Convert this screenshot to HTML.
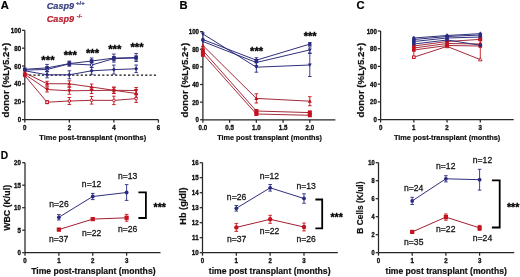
<!DOCTYPE html>
<html><head><meta charset="utf-8"><style>
html,body{margin:0;padding:0;background:#fff;width:520px;height:277px;overflow:hidden}
svg{display:block;will-change:transform;filter:blur(0.35px)}
text{font-family:"Liberation Sans", sans-serif}
.k text{stroke:#111;stroke-width:0.2px}
</style></head><body>
<svg width="520" height="277" viewBox="0 0 520 277">
<rect width="520" height="277" fill="#fff"/>
<text x="0.8" y="9.3" font-size="11.2" text-anchor="start" font-weight="bold" fill="#000"  stroke="#000" stroke-width="0.2">A</text>
<text x="46.8" y="8.8" font-size="9.1" text-anchor="start" font-weight="bold" fill="#38407f" font-style="italic"  stroke="#38407f" stroke-width="0.2">Casp9</text>
<text x="76" y="4.6" font-size="6" text-anchor="start" font-weight="bold" fill="#38407f"  stroke="#38407f" stroke-width="0.2">+/+</text>
<text x="46.8" y="21.6" font-size="9.1" text-anchor="start" font-weight="bold" fill="#b81e2c" font-style="italic"  stroke="#b81e2c" stroke-width="0.2">Casp9</text>
<text x="76.8" y="17.8" font-size="5.8" text-anchor="start" font-weight="bold" fill="#b81e2c"  stroke="#b81e2c" stroke-width="0.2">-/-</text>
<line x1="24.8" y1="30.3" x2="24.8" y2="119.6" stroke="#262626" stroke-width="1.25" />
<line x1="24.8" y1="119.6" x2="158.4" y2="119.6" stroke="#262626" stroke-width="1.25" />
<line x1="22" y1="119.6" x2="24.8" y2="119.6" stroke="#262626" stroke-width="1.25" />
<text x="0" y="0" font-size="7" text-anchor="end" font-weight="bold" fill="#111" stroke="#111" stroke-width="0.35" transform="translate(21.1,122.15) scale(0.88,1)">0</text>
<line x1="22" y1="101.74" x2="24.8" y2="101.74" stroke="#262626" stroke-width="1.25" />
<text x="0" y="0" font-size="7" text-anchor="end" font-weight="bold" fill="#111" stroke="#111" stroke-width="0.35" transform="translate(21.1,104.29) scale(0.88,1)">20</text>
<line x1="22" y1="83.88" x2="24.8" y2="83.88" stroke="#262626" stroke-width="1.25" />
<text x="0" y="0" font-size="7" text-anchor="end" font-weight="bold" fill="#111" stroke="#111" stroke-width="0.35" transform="translate(21.1,86.43) scale(0.88,1)">40</text>
<line x1="22" y1="66.02" x2="24.8" y2="66.02" stroke="#262626" stroke-width="1.25" />
<text x="0" y="0" font-size="7" text-anchor="end" font-weight="bold" fill="#111" stroke="#111" stroke-width="0.35" transform="translate(21.1,68.57) scale(0.88,1)">60</text>
<line x1="22" y1="48.16" x2="24.8" y2="48.16" stroke="#262626" stroke-width="1.25" />
<text x="0" y="0" font-size="7" text-anchor="end" font-weight="bold" fill="#111" stroke="#111" stroke-width="0.35" transform="translate(21.1,50.71) scale(0.88,1)">80</text>
<line x1="22" y1="30.3" x2="24.8" y2="30.3" stroke="#262626" stroke-width="1.25" />
<text x="0" y="0" font-size="7" text-anchor="end" font-weight="bold" fill="#111" stroke="#111" stroke-width="0.35" transform="translate(21.1,32.85) scale(0.88,1)">100</text>
<line x1="24.8" y1="119.6" x2="24.8" y2="122.6" stroke="#262626" stroke-width="1.25" />
<text x="0" y="0" font-size="7" text-anchor="middle" font-weight="bold" fill="#111" stroke="#111" stroke-width="0.35" transform="translate(24.8,129.55) scale(0.88,1)">0</text>
<line x1="69.34" y1="119.6" x2="69.34" y2="122.6" stroke="#262626" stroke-width="1.25" />
<text x="0" y="0" font-size="7" text-anchor="middle" font-weight="bold" fill="#111" stroke="#111" stroke-width="0.35" transform="translate(69.34,129.55) scale(0.88,1)">2</text>
<line x1="113.88" y1="119.6" x2="113.88" y2="122.6" stroke="#262626" stroke-width="1.25" />
<text x="0" y="0" font-size="7" text-anchor="middle" font-weight="bold" fill="#111" stroke="#111" stroke-width="0.35" transform="translate(113.88,129.55) scale(0.88,1)">4</text>
<line x1="158.42" y1="119.6" x2="158.42" y2="122.6" stroke="#262626" stroke-width="1.25" />
<text x="0" y="0" font-size="7" text-anchor="middle" font-weight="bold" fill="#111" stroke="#111" stroke-width="0.35" transform="translate(158.42,129.55) scale(0.88,1)">6</text>
<text x="92.8" y="139.6" font-size="7.42" text-anchor="middle" font-weight="bold" fill="#111"  stroke="#111" stroke-width="0.2">Time post-transplant (months)</text>
<text x="0" y="0" font-size="9.6" text-anchor="middle" font-weight="bold" fill="#111" stroke="#111" stroke-width="0.2" transform="translate(5.8,80.2) rotate(-90)" dominant-baseline="central">donor (%Ly5.2+)</text>
<line x1="24.8" y1="75.15" x2="157" y2="75.15" stroke="#111" stroke-width="1.1" stroke-dasharray="2.2 2.1"/>
<polyline points="24.8,72.8 47.07,83.7 69.34,83.8 91.61,87 113.88,90.3 136.15,93.5" fill="none" stroke="#a02030" stroke-width="0.95"/>
<line x1="47.07" y1="81.3" x2="47.07" y2="86.1" stroke="#c4121e" stroke-width="0.9" />
<line x1="45.27" y1="81.3" x2="48.87" y2="81.3" stroke="#c4121e" stroke-width="0.9" />
<line x1="45.27" y1="86.1" x2="48.87" y2="86.1" stroke="#c4121e" stroke-width="0.9" />
<line x1="69.34" y1="80.8" x2="69.34" y2="86.8" stroke="#c4121e" stroke-width="0.9" />
<line x1="67.54" y1="80.8" x2="71.14" y2="80.8" stroke="#c4121e" stroke-width="0.9" />
<line x1="67.54" y1="86.8" x2="71.14" y2="86.8" stroke="#c4121e" stroke-width="0.9" />
<line x1="91.61" y1="84" x2="91.61" y2="90" stroke="#c4121e" stroke-width="0.9" />
<line x1="89.81" y1="84" x2="93.41" y2="84" stroke="#c4121e" stroke-width="0.9" />
<line x1="89.81" y1="90" x2="93.41" y2="90" stroke="#c4121e" stroke-width="0.9" />
<line x1="113.88" y1="87.1" x2="113.88" y2="93.5" stroke="#c4121e" stroke-width="0.9" />
<line x1="112.08" y1="87.1" x2="115.68" y2="87.1" stroke="#c4121e" stroke-width="0.9" />
<line x1="112.08" y1="93.5" x2="115.68" y2="93.5" stroke="#c4121e" stroke-width="0.9" />
<line x1="136.15" y1="89.7" x2="136.15" y2="97.3" stroke="#c4121e" stroke-width="0.9" />
<line x1="134.35" y1="89.7" x2="137.95" y2="89.7" stroke="#c4121e" stroke-width="0.9" />
<line x1="134.35" y1="97.3" x2="137.95" y2="97.3" stroke="#c4121e" stroke-width="0.9" />
<polyline points="24.8,74.3 47.07,89.5 69.34,90.8 91.61,90.5 113.88,90.3 136.15,90.5" fill="none" stroke="#a02030" stroke-width="0.95"/>
<line x1="47.07" y1="87" x2="47.07" y2="92" stroke="#c4121e" stroke-width="0.9" />
<line x1="45.27" y1="87" x2="48.87" y2="87" stroke="#c4121e" stroke-width="0.9" />
<line x1="45.27" y1="92" x2="48.87" y2="92" stroke="#c4121e" stroke-width="0.9" />
<line x1="69.34" y1="87.3" x2="69.34" y2="94.3" stroke="#c4121e" stroke-width="0.9" />
<line x1="67.54" y1="87.3" x2="71.14" y2="87.3" stroke="#c4121e" stroke-width="0.9" />
<line x1="67.54" y1="94.3" x2="71.14" y2="94.3" stroke="#c4121e" stroke-width="0.9" />
<line x1="91.61" y1="87.5" x2="91.61" y2="93.5" stroke="#c4121e" stroke-width="0.9" />
<line x1="89.81" y1="87.5" x2="93.41" y2="87.5" stroke="#c4121e" stroke-width="0.9" />
<line x1="89.81" y1="93.5" x2="93.41" y2="93.5" stroke="#c4121e" stroke-width="0.9" />
<line x1="113.88" y1="87.3" x2="113.88" y2="93.3" stroke="#c4121e" stroke-width="0.9" />
<line x1="112.08" y1="87.3" x2="115.68" y2="87.3" stroke="#c4121e" stroke-width="0.9" />
<line x1="112.08" y1="93.3" x2="115.68" y2="93.3" stroke="#c4121e" stroke-width="0.9" />
<line x1="136.15" y1="87.5" x2="136.15" y2="93.5" stroke="#c4121e" stroke-width="0.9" />
<line x1="134.35" y1="87.5" x2="137.95" y2="87.5" stroke="#c4121e" stroke-width="0.9" />
<line x1="134.35" y1="93.5" x2="137.95" y2="93.5" stroke="#c4121e" stroke-width="0.9" />
<polyline points="24.8,75.6 47.07,102.2 69.34,101 91.61,100.3 113.88,100.4 136.15,98.6" fill="none" stroke="#a02030" stroke-width="0.95"/>
<line x1="47.07" y1="100.7" x2="47.07" y2="103.7" stroke="#c4121e" stroke-width="0.9" />
<line x1="45.27" y1="100.7" x2="48.87" y2="100.7" stroke="#c4121e" stroke-width="0.9" />
<line x1="45.27" y1="103.7" x2="48.87" y2="103.7" stroke="#c4121e" stroke-width="0.9" />
<line x1="69.34" y1="97.5" x2="69.34" y2="104.5" stroke="#c4121e" stroke-width="0.9" />
<line x1="67.54" y1="97.5" x2="71.14" y2="97.5" stroke="#c4121e" stroke-width="0.9" />
<line x1="67.54" y1="104.5" x2="71.14" y2="104.5" stroke="#c4121e" stroke-width="0.9" />
<line x1="91.61" y1="96.5" x2="91.61" y2="104.1" stroke="#c4121e" stroke-width="0.9" />
<line x1="89.81" y1="96.5" x2="93.41" y2="96.5" stroke="#c4121e" stroke-width="0.9" />
<line x1="89.81" y1="104.1" x2="93.41" y2="104.1" stroke="#c4121e" stroke-width="0.9" />
<line x1="113.88" y1="96.2" x2="113.88" y2="104.6" stroke="#c4121e" stroke-width="0.9" />
<line x1="112.08" y1="96.2" x2="115.68" y2="96.2" stroke="#c4121e" stroke-width="0.9" />
<line x1="112.08" y1="104.6" x2="115.68" y2="104.6" stroke="#c4121e" stroke-width="0.9" />
<line x1="136.15" y1="94.8" x2="136.15" y2="102.4" stroke="#c4121e" stroke-width="0.9" />
<line x1="134.35" y1="94.8" x2="137.95" y2="94.8" stroke="#c4121e" stroke-width="0.9" />
<line x1="134.35" y1="102.4" x2="137.95" y2="102.4" stroke="#c4121e" stroke-width="0.9" />
<polygon points="24.8,70.7 26.8,74.3 22.8,74.3" fill="#c4121e"/>
<polygon points="47.07,81.6 49.07,85.2 45.07,85.2" fill="#c4121e"/>
<polygon points="69.34,81.7 71.34,85.3 67.34,85.3" fill="#c4121e"/>
<polygon points="91.61,84.9 93.61,88.5 89.61,88.5" fill="#c4121e"/>
<polygon points="113.88,88.2 115.88,91.8 111.88,91.8" fill="#c4121e"/>
<polygon points="136.15,91.4 138.15,95 134.15,95" fill="#c4121e"/>
<polygon points="24.8,76.4 26.8,72.8 22.8,72.8" fill="#c4121e"/>
<polygon points="47.07,91.6 49.07,88 45.07,88" fill="#c4121e"/>
<polygon points="69.34,92.9 71.34,89.3 67.34,89.3" fill="#c4121e"/>
<polygon points="91.61,92.6 93.61,89 89.61,89" fill="#c4121e"/>
<polygon points="113.88,92.4 115.88,88.8 111.88,88.8" fill="#c4121e"/>
<polygon points="136.15,92.6 138.15,89 134.15,89" fill="#c4121e"/>
<circle cx="24.8" cy="75.6" r="1.3" fill="#fff" stroke="#c4121e" stroke-width="1"/>
<rect x="45.77" y="100.9" width="2.6" height="2.6" fill="#fff" stroke="#c4121e" stroke-width="1"/>
<circle cx="69.34" cy="101" r="1.3" fill="#fff" stroke="#c4121e" stroke-width="1"/>
<circle cx="91.61" cy="100.3" r="1.3" fill="#fff" stroke="#c4121e" stroke-width="1"/>
<circle cx="113.88" cy="100.4" r="1.3" fill="#fff" stroke="#c4121e" stroke-width="1"/>
<circle cx="136.15" cy="98.6" r="1.3" fill="#fff" stroke="#c4121e" stroke-width="1"/>
<polyline points="24.8,69.3 47.07,67.9 69.34,63.6 91.61,61 113.88,58.1 136.15,57.5" fill="none" stroke="#30307c" stroke-width="1"/>
<line x1="47.07" y1="64.4" x2="47.07" y2="71.4" stroke="#2a2a80" stroke-width="0.9" />
<line x1="45.27" y1="64.4" x2="48.87" y2="64.4" stroke="#2a2a80" stroke-width="0.9" />
<line x1="45.27" y1="71.4" x2="48.87" y2="71.4" stroke="#2a2a80" stroke-width="0.9" />
<line x1="69.34" y1="61.1" x2="69.34" y2="66.1" stroke="#2a2a80" stroke-width="0.9" />
<line x1="67.54" y1="61.1" x2="71.14" y2="61.1" stroke="#2a2a80" stroke-width="0.9" />
<line x1="67.54" y1="66.1" x2="71.14" y2="66.1" stroke="#2a2a80" stroke-width="0.9" />
<line x1="91.61" y1="58" x2="91.61" y2="64" stroke="#2a2a80" stroke-width="0.9" />
<line x1="89.81" y1="58" x2="93.41" y2="58" stroke="#2a2a80" stroke-width="0.9" />
<line x1="89.81" y1="64" x2="93.41" y2="64" stroke="#2a2a80" stroke-width="0.9" />
<line x1="113.88" y1="54.1" x2="113.88" y2="62.1" stroke="#2a2a80" stroke-width="0.9" />
<line x1="112.08" y1="54.1" x2="115.68" y2="54.1" stroke="#2a2a80" stroke-width="0.9" />
<line x1="112.08" y1="62.1" x2="115.68" y2="62.1" stroke="#2a2a80" stroke-width="0.9" />
<line x1="136.15" y1="53.5" x2="136.15" y2="61.5" stroke="#2a2a80" stroke-width="0.9" />
<line x1="134.35" y1="53.5" x2="137.95" y2="53.5" stroke="#2a2a80" stroke-width="0.9" />
<line x1="134.35" y1="61.5" x2="137.95" y2="61.5" stroke="#2a2a80" stroke-width="0.9" />
<polyline points="24.8,70 47.07,69.5 69.34,63.8 91.61,65 113.88,58.6 136.15,58" fill="none" stroke="#30307c" stroke-width="1"/>
<line x1="47.07" y1="67.5" x2="47.07" y2="71.5" stroke="#2a2a80" stroke-width="0.9" />
<line x1="45.27" y1="67.5" x2="48.87" y2="67.5" stroke="#2a2a80" stroke-width="0.9" />
<line x1="45.27" y1="71.5" x2="48.87" y2="71.5" stroke="#2a2a80" stroke-width="0.9" />
<line x1="69.34" y1="61.8" x2="69.34" y2="65.8" stroke="#2a2a80" stroke-width="0.9" />
<line x1="67.54" y1="61.8" x2="71.14" y2="61.8" stroke="#2a2a80" stroke-width="0.9" />
<line x1="67.54" y1="65.8" x2="71.14" y2="65.8" stroke="#2a2a80" stroke-width="0.9" />
<line x1="91.61" y1="62.5" x2="91.61" y2="67.5" stroke="#2a2a80" stroke-width="0.9" />
<line x1="89.81" y1="62.5" x2="93.41" y2="62.5" stroke="#2a2a80" stroke-width="0.9" />
<line x1="89.81" y1="67.5" x2="93.41" y2="67.5" stroke="#2a2a80" stroke-width="0.9" />
<line x1="113.88" y1="56.6" x2="113.88" y2="60.6" stroke="#2a2a80" stroke-width="0.9" />
<line x1="112.08" y1="56.6" x2="115.68" y2="56.6" stroke="#2a2a80" stroke-width="0.9" />
<line x1="112.08" y1="60.6" x2="115.68" y2="60.6" stroke="#2a2a80" stroke-width="0.9" />
<line x1="136.15" y1="56" x2="136.15" y2="60" stroke="#2a2a80" stroke-width="0.9" />
<line x1="134.35" y1="56" x2="137.95" y2="56" stroke="#2a2a80" stroke-width="0.9" />
<line x1="134.35" y1="60" x2="137.95" y2="60" stroke="#2a2a80" stroke-width="0.9" />
<polyline points="24.8,70.8 47.07,74.8 69.34,74.8 91.61,70.8 113.88,69.6 136.15,68.8" fill="none" stroke="#30307c" stroke-width="1"/>
<line x1="47.07" y1="71.8" x2="47.07" y2="77.8" stroke="#2a2a80" stroke-width="0.9" />
<line x1="45.27" y1="71.8" x2="48.87" y2="71.8" stroke="#2a2a80" stroke-width="0.9" />
<line x1="45.27" y1="77.8" x2="48.87" y2="77.8" stroke="#2a2a80" stroke-width="0.9" />
<line x1="69.34" y1="70.8" x2="69.34" y2="78.8" stroke="#2a2a80" stroke-width="0.9" />
<line x1="67.54" y1="70.8" x2="71.14" y2="70.8" stroke="#2a2a80" stroke-width="0.9" />
<line x1="67.54" y1="78.8" x2="71.14" y2="78.8" stroke="#2a2a80" stroke-width="0.9" />
<line x1="91.61" y1="67.3" x2="91.61" y2="74.3" stroke="#2a2a80" stroke-width="0.9" />
<line x1="89.81" y1="67.3" x2="93.41" y2="67.3" stroke="#2a2a80" stroke-width="0.9" />
<line x1="89.81" y1="74.3" x2="93.41" y2="74.3" stroke="#2a2a80" stroke-width="0.9" />
<line x1="113.88" y1="65.1" x2="113.88" y2="74.1" stroke="#2a2a80" stroke-width="0.9" />
<line x1="112.08" y1="65.1" x2="115.68" y2="65.1" stroke="#2a2a80" stroke-width="0.9" />
<line x1="112.08" y1="74.1" x2="115.68" y2="74.1" stroke="#2a2a80" stroke-width="0.9" />
<line x1="136.15" y1="65" x2="136.15" y2="72.6" stroke="#2a2a80" stroke-width="0.9" />
<line x1="134.35" y1="65" x2="137.95" y2="65" stroke="#2a2a80" stroke-width="0.9" />
<line x1="134.35" y1="72.6" x2="137.95" y2="72.6" stroke="#2a2a80" stroke-width="0.9" />
<circle cx="24.8" cy="70" r="1.3" fill="#fff" stroke="#2a2a80" stroke-width="1"/>
<circle cx="47.07" cy="69.5" r="1.3" fill="#fff" stroke="#2a2a80" stroke-width="1"/>
<circle cx="69.34" cy="63.8" r="1.3" fill="#fff" stroke="#2a2a80" stroke-width="1"/>
<circle cx="91.61" cy="65" r="1.3" fill="#fff" stroke="#2a2a80" stroke-width="1"/>
<circle cx="113.88" cy="58.6" r="1.3" fill="#fff" stroke="#2a2a80" stroke-width="1"/>
<circle cx="136.15" cy="58" r="1.3" fill="#fff" stroke="#2a2a80" stroke-width="1"/>
<rect x="23" y="67.5" width="3.6" height="3.6" fill="#2a2a80"/>
<rect x="45.27" y="66.1" width="3.6" height="3.6" fill="#2a2a80"/>
<rect x="67.54" y="61.8" width="3.6" height="3.6" fill="#2a2a80"/>
<rect x="89.81" y="59.2" width="3.6" height="3.6" fill="#2a2a80"/>
<rect x="112.08" y="56.3" width="3.6" height="3.6" fill="#2a2a80"/>
<rect x="134.35" y="55.7" width="3.6" height="3.6" fill="#2a2a80"/>
<polygon points="24.8,68.6 26.8,70.8 24.8,73 22.8,70.8" fill="#2a2a80"/>
<polygon points="47.07,72.6 49.07,74.8 47.07,77 45.07,74.8" fill="#2a2a80"/>
<polygon points="69.34,72.6 71.34,74.8 69.34,77 67.34,74.8" fill="#2a2a80"/>
<polygon points="91.61,68.6 93.61,70.8 91.61,73 89.61,70.8" fill="#2a2a80"/>
<polygon points="113.88,67.4 115.88,69.6 113.88,71.8 111.88,69.6" fill="#2a2a80"/>
<polygon points="136.15,66.6 138.15,68.8 136.15,71 134.15,68.8" fill="#2a2a80"/>
<polygon points="24.8,70.6 26.9,74.4 22.7,74.4" fill="#c4121e"/>
<polygon points="24.8,76.5 26.9,72.7 22.7,72.7" fill="#c4121e"/>
<circle cx="24.8" cy="75.6" r="1.9" fill="#c4121e"/>
<text x="47.97" y="64.03" font-size="11.3" text-anchor="middle" font-weight="bold" fill="#000" stroke="#000" stroke-width="0.35">***</text>
<text x="70.24" y="59.03" font-size="11.3" text-anchor="middle" font-weight="bold" fill="#000" stroke="#000" stroke-width="0.35">***</text>
<text x="92.51" y="56.63" font-size="11.3" text-anchor="middle" font-weight="bold" fill="#000" stroke="#000" stroke-width="0.35">***</text>
<text x="114.78" y="53.03" font-size="11.3" text-anchor="middle" font-weight="bold" fill="#000" stroke="#000" stroke-width="0.35">***</text>
<text x="137.05" y="51.23" font-size="11.3" text-anchor="middle" font-weight="bold" fill="#000" stroke="#000" stroke-width="0.35">***</text>
<text x="179.6" y="9.3" font-size="11.2" text-anchor="start" font-weight="bold" fill="#000"  stroke="#000" stroke-width="0.2">B</text>
<line x1="202.9" y1="31.6" x2="202.9" y2="119.75" stroke="#262626" stroke-width="1.25" />
<line x1="202.9" y1="119.75" x2="335.4" y2="119.75" stroke="#262626" stroke-width="1.25" />
<line x1="200.1" y1="119.75" x2="202.9" y2="119.75" stroke="#262626" stroke-width="1.25" />
<text x="0" y="0" font-size="7" text-anchor="end" font-weight="bold" fill="#111" stroke="#111" stroke-width="0.35" transform="translate(199,122.3) scale(0.88,1)">0</text>
<line x1="200.1" y1="102.13" x2="202.9" y2="102.13" stroke="#262626" stroke-width="1.25" />
<text x="0" y="0" font-size="7" text-anchor="end" font-weight="bold" fill="#111" stroke="#111" stroke-width="0.35" transform="translate(199,104.68) scale(0.88,1)">20</text>
<line x1="200.1" y1="84.51" x2="202.9" y2="84.51" stroke="#262626" stroke-width="1.25" />
<text x="0" y="0" font-size="7" text-anchor="end" font-weight="bold" fill="#111" stroke="#111" stroke-width="0.35" transform="translate(199,87.06) scale(0.88,1)">40</text>
<line x1="200.1" y1="66.89" x2="202.9" y2="66.89" stroke="#262626" stroke-width="1.25" />
<text x="0" y="0" font-size="7" text-anchor="end" font-weight="bold" fill="#111" stroke="#111" stroke-width="0.35" transform="translate(199,69.44) scale(0.88,1)">60</text>
<line x1="200.1" y1="49.27" x2="202.9" y2="49.27" stroke="#262626" stroke-width="1.25" />
<text x="0" y="0" font-size="7" text-anchor="end" font-weight="bold" fill="#111" stroke="#111" stroke-width="0.35" transform="translate(199,51.82) scale(0.88,1)">80</text>
<line x1="200.1" y1="31.65" x2="202.9" y2="31.65" stroke="#262626" stroke-width="1.25" />
<text x="0" y="0" font-size="7" text-anchor="end" font-weight="bold" fill="#111" stroke="#111" stroke-width="0.35" transform="translate(199,34.2) scale(0.88,1)">100</text>
<line x1="202.9" y1="119.75" x2="202.9" y2="122.75" stroke="#262626" stroke-width="1.25" />
<text x="0" y="0" font-size="7" text-anchor="middle" font-weight="bold" fill="#111" stroke="#111" stroke-width="0.35" transform="translate(202.9,129.65) scale(0.88,1)">0.0</text>
<line x1="229.62" y1="119.75" x2="229.62" y2="122.75" stroke="#262626" stroke-width="1.25" />
<text x="0" y="0" font-size="7" text-anchor="middle" font-weight="bold" fill="#111" stroke="#111" stroke-width="0.35" transform="translate(229.62,129.65) scale(0.88,1)">0.5</text>
<line x1="256.35" y1="119.75" x2="256.35" y2="122.75" stroke="#262626" stroke-width="1.25" />
<text x="0" y="0" font-size="7" text-anchor="middle" font-weight="bold" fill="#111" stroke="#111" stroke-width="0.35" transform="translate(256.35,129.65) scale(0.88,1)">1.0</text>
<line x1="283.08" y1="119.75" x2="283.08" y2="122.75" stroke="#262626" stroke-width="1.25" />
<text x="0" y="0" font-size="7" text-anchor="middle" font-weight="bold" fill="#111" stroke="#111" stroke-width="0.35" transform="translate(283.08,129.65) scale(0.88,1)">1.5</text>
<line x1="309.8" y1="119.75" x2="309.8" y2="122.75" stroke="#262626" stroke-width="1.25" />
<text x="0" y="0" font-size="7" text-anchor="middle" font-weight="bold" fill="#111" stroke="#111" stroke-width="0.35" transform="translate(309.8,129.65) scale(0.88,1)">2.0</text>
<text x="269.6" y="139.6" font-size="7.3" text-anchor="middle" font-weight="bold" fill="#111"  stroke="#111" stroke-width="0.2">Time post transplant (months)</text>
<text x="0" y="0" font-size="9.6" text-anchor="middle" font-weight="bold" fill="#111" stroke="#111" stroke-width="0.2" transform="translate(184.5,80.2) rotate(-90)" dominant-baseline="central">donor (%Ly5.2+)</text>
<polyline points="202.9,45.5 256.35,98.4 309.8,101.2" fill="none" stroke="#a02030" stroke-width="0.95"/>
<line x1="256.35" y1="93.8" x2="256.35" y2="103" stroke="#c4121e" stroke-width="0.9" />
<line x1="254.55" y1="93.8" x2="258.15" y2="93.8" stroke="#c4121e" stroke-width="0.9" />
<line x1="254.55" y1="103" x2="258.15" y2="103" stroke="#c4121e" stroke-width="0.9" />
<line x1="309.8" y1="96.7" x2="309.8" y2="105.7" stroke="#c4121e" stroke-width="0.9" />
<line x1="308" y1="96.7" x2="311.6" y2="96.7" stroke="#c4121e" stroke-width="0.9" />
<line x1="308" y1="105.7" x2="311.6" y2="105.7" stroke="#c4121e" stroke-width="0.9" />
<polyline points="202.9,50.5 256.35,111 309.8,112.6" fill="none" stroke="#a02030" stroke-width="0.95"/>
<line x1="202.9" y1="48" x2="202.9" y2="53" stroke="#c4121e" stroke-width="0.9" />
<line x1="201.1" y1="48" x2="204.7" y2="48" stroke="#c4121e" stroke-width="0.9" />
<line x1="201.1" y1="53" x2="204.7" y2="53" stroke="#c4121e" stroke-width="0.9" />
<line x1="256.35" y1="109.5" x2="256.35" y2="112.5" stroke="#c4121e" stroke-width="0.9" />
<line x1="254.55" y1="109.5" x2="258.15" y2="109.5" stroke="#c4121e" stroke-width="0.9" />
<line x1="254.55" y1="112.5" x2="258.15" y2="112.5" stroke="#c4121e" stroke-width="0.9" />
<line x1="309.8" y1="111.1" x2="309.8" y2="114.1" stroke="#c4121e" stroke-width="0.9" />
<line x1="308" y1="111.1" x2="311.6" y2="111.1" stroke="#c4121e" stroke-width="0.9" />
<line x1="308" y1="114.1" x2="311.6" y2="114.1" stroke="#c4121e" stroke-width="0.9" />
<polyline points="202.9,54 256.35,114 309.8,115.3" fill="none" stroke="#a02030" stroke-width="0.95"/>
<line x1="202.9" y1="51.5" x2="202.9" y2="56.5" stroke="#c4121e" stroke-width="0.9" />
<line x1="201.1" y1="51.5" x2="204.7" y2="51.5" stroke="#c4121e" stroke-width="0.9" />
<line x1="201.1" y1="56.5" x2="204.7" y2="56.5" stroke="#c4121e" stroke-width="0.9" />
<line x1="256.35" y1="113" x2="256.35" y2="115" stroke="#c4121e" stroke-width="0.9" />
<line x1="254.55" y1="113" x2="258.15" y2="113" stroke="#c4121e" stroke-width="0.9" />
<line x1="254.55" y1="115" x2="258.15" y2="115" stroke="#c4121e" stroke-width="0.9" />
<line x1="309.8" y1="114.3" x2="309.8" y2="116.3" stroke="#c4121e" stroke-width="0.9" />
<line x1="308" y1="114.3" x2="311.6" y2="114.3" stroke="#c4121e" stroke-width="0.9" />
<line x1="308" y1="116.3" x2="311.6" y2="116.3" stroke="#c4121e" stroke-width="0.9" />
<polygon points="202.9,43.4 204.9,47 200.9,47" fill="#c4121e"/>
<polygon points="256.35,96.3 258.35,99.9 254.35,99.9" fill="#c4121e"/>
<polygon points="309.8,99.1 311.8,102.7 307.8,102.7" fill="#c4121e"/>
<rect x="200.9" y="48.5" width="4" height="4" fill="#c4121e"/>
<rect x="254.35" y="109" width="4" height="4" fill="#c4121e"/>
<rect x="307.8" y="110.6" width="4" height="4" fill="#c4121e"/>
<rect x="200.9" y="52" width="4" height="4" fill="#c4121e"/>
<rect x="254.35" y="112" width="4" height="4" fill="#c4121e"/>
<rect x="307.8" y="113.3" width="4" height="4" fill="#c4121e"/>
<polyline points="202.9,34 256.35,67.2 309.8,65" fill="none" stroke="#30307c" stroke-width="1"/>
<line x1="256.35" y1="62.2" x2="256.35" y2="72.2" stroke="#2a2a80" stroke-width="0.9" />
<line x1="254.55" y1="62.2" x2="258.15" y2="62.2" stroke="#2a2a80" stroke-width="0.9" />
<line x1="254.55" y1="72.2" x2="258.15" y2="72.2" stroke="#2a2a80" stroke-width="0.9" />
<line x1="309.8" y1="53.5" x2="309.8" y2="76.5" stroke="#2a2a80" stroke-width="0.9" />
<line x1="308" y1="53.5" x2="311.6" y2="53.5" stroke="#2a2a80" stroke-width="0.9" />
<line x1="308" y1="76.5" x2="311.6" y2="76.5" stroke="#2a2a80" stroke-width="0.9" />
<polyline points="202.9,39.5 256.35,60.2 309.8,44.1" fill="none" stroke="#30307c" stroke-width="1"/>
<line x1="256.35" y1="57.7" x2="256.35" y2="62.7" stroke="#2a2a80" stroke-width="0.9" />
<line x1="254.55" y1="57.7" x2="258.15" y2="57.7" stroke="#2a2a80" stroke-width="0.9" />
<line x1="254.55" y1="62.7" x2="258.15" y2="62.7" stroke="#2a2a80" stroke-width="0.9" />
<line x1="309.8" y1="42.6" x2="309.8" y2="45.6" stroke="#2a2a80" stroke-width="0.9" />
<line x1="308" y1="42.6" x2="311.6" y2="42.6" stroke="#2a2a80" stroke-width="0.9" />
<line x1="308" y1="45.6" x2="311.6" y2="45.6" stroke="#2a2a80" stroke-width="0.9" />
<polyline points="202.9,41.5 256.35,62.5 309.8,49.9" fill="none" stroke="#30307c" stroke-width="1"/>
<line x1="256.35" y1="59.5" x2="256.35" y2="65.5" stroke="#2a2a80" stroke-width="0.9" />
<line x1="254.55" y1="59.5" x2="258.15" y2="59.5" stroke="#2a2a80" stroke-width="0.9" />
<line x1="254.55" y1="65.5" x2="258.15" y2="65.5" stroke="#2a2a80" stroke-width="0.9" />
<line x1="309.8" y1="46.9" x2="309.8" y2="52.9" stroke="#2a2a80" stroke-width="0.9" />
<line x1="308" y1="46.9" x2="311.6" y2="46.9" stroke="#2a2a80" stroke-width="0.9" />
<line x1="308" y1="52.9" x2="311.6" y2="52.9" stroke="#2a2a80" stroke-width="0.9" />
<polygon points="202.9,36.1 204.9,32.5 200.9,32.5" fill="#2a2a80"/>
<polygon points="256.35,69.3 258.35,65.7 254.35,65.7" fill="#2a2a80"/>
<polygon points="309.8,67.1 311.8,63.5 307.8,63.5" fill="#2a2a80"/>
<circle cx="202.9" cy="39.5" r="1.8" fill="#2a2a80"/>
<circle cx="256.35" cy="60.2" r="1.8" fill="#2a2a80"/>
<circle cx="309.8" cy="44.1" r="1.8" fill="#2a2a80"/>
<polygon points="202.9,43.6 204.9,40 200.9,40" fill="#2a2a80"/>
<polygon points="256.35,64.6 258.35,61 254.35,61" fill="#2a2a80"/>
<polygon points="309.8,52 311.8,48.4 307.8,48.4" fill="#2a2a80"/>
<text x="256.65" y="54.92" font-size="11.2" text-anchor="middle" font-weight="bold" fill="#000" stroke="#000" stroke-width="0.35">***</text>
<text x="310.2" y="39.97" font-size="11.2" text-anchor="middle" font-weight="bold" fill="#000" stroke="#000" stroke-width="0.35">***</text>
<text x="356.4" y="9.3" font-size="11.2" text-anchor="start" font-weight="bold" fill="#000"  stroke="#000" stroke-width="0.2">C</text>
<line x1="380.6" y1="31" x2="380.6" y2="119.6" stroke="#262626" stroke-width="1.25" />
<line x1="380.6" y1="119.6" x2="513.7" y2="119.6" stroke="#262626" stroke-width="1.25" />
<line x1="377.8" y1="119.6" x2="380.6" y2="119.6" stroke="#262626" stroke-width="1.25" />
<text x="0" y="0" font-size="7" text-anchor="end" font-weight="bold" fill="#111" stroke="#111" stroke-width="0.35" transform="translate(376.9,122.15) scale(0.88,1)">0</text>
<line x1="377.8" y1="101.88" x2="380.6" y2="101.88" stroke="#262626" stroke-width="1.25" />
<text x="0" y="0" font-size="7" text-anchor="end" font-weight="bold" fill="#111" stroke="#111" stroke-width="0.35" transform="translate(376.9,104.43) scale(0.88,1)">20</text>
<line x1="377.8" y1="84.16" x2="380.6" y2="84.16" stroke="#262626" stroke-width="1.25" />
<text x="0" y="0" font-size="7" text-anchor="end" font-weight="bold" fill="#111" stroke="#111" stroke-width="0.35" transform="translate(376.9,86.71) scale(0.88,1)">40</text>
<line x1="377.8" y1="66.44" x2="380.6" y2="66.44" stroke="#262626" stroke-width="1.25" />
<text x="0" y="0" font-size="7" text-anchor="end" font-weight="bold" fill="#111" stroke="#111" stroke-width="0.35" transform="translate(376.9,68.99) scale(0.88,1)">60</text>
<line x1="377.8" y1="48.72" x2="380.6" y2="48.72" stroke="#262626" stroke-width="1.25" />
<text x="0" y="0" font-size="7" text-anchor="end" font-weight="bold" fill="#111" stroke="#111" stroke-width="0.35" transform="translate(376.9,51.27) scale(0.88,1)">80</text>
<line x1="377.8" y1="31" x2="380.6" y2="31" stroke="#262626" stroke-width="1.25" />
<text x="0" y="0" font-size="7" text-anchor="end" font-weight="bold" fill="#111" stroke="#111" stroke-width="0.35" transform="translate(376.9,33.55) scale(0.88,1)">100</text>
<line x1="380.6" y1="119.6" x2="380.6" y2="122.6" stroke="#262626" stroke-width="1.25" />
<text x="0" y="0" font-size="7" text-anchor="middle" font-weight="bold" fill="#111" stroke="#111" stroke-width="0.35" transform="translate(380.6,129.65) scale(0.88,1)">0</text>
<line x1="413.83" y1="119.6" x2="413.83" y2="122.6" stroke="#262626" stroke-width="1.25" />
<text x="0" y="0" font-size="7" text-anchor="middle" font-weight="bold" fill="#111" stroke="#111" stroke-width="0.35" transform="translate(413.83,129.65) scale(0.88,1)">1</text>
<line x1="447.06" y1="119.6" x2="447.06" y2="122.6" stroke="#262626" stroke-width="1.25" />
<text x="0" y="0" font-size="7" text-anchor="middle" font-weight="bold" fill="#111" stroke="#111" stroke-width="0.35" transform="translate(447.06,129.65) scale(0.88,1)">2</text>
<line x1="480.29" y1="119.6" x2="480.29" y2="122.6" stroke="#262626" stroke-width="1.25" />
<text x="0" y="0" font-size="7" text-anchor="middle" font-weight="bold" fill="#111" stroke="#111" stroke-width="0.35" transform="translate(480.29,129.65) scale(0.88,1)">3</text>
<text x="447.1" y="139.6" font-size="7.38" text-anchor="middle" font-weight="bold" fill="#111"  stroke="#111" stroke-width="0.2">Time post-transplant (months)</text>
<text x="0" y="0" font-size="9.6" text-anchor="middle" font-weight="bold" fill="#111" stroke="#111" stroke-width="0.2" transform="translate(360.8,80.2) rotate(-90)" dominant-baseline="central">donor (%Ly5.2+)</text>
<polyline points="413.83,57.2 447.06,46.4 480.29,59.6" fill="none" stroke="#a02030" stroke-width="0.95"/>
<polyline points="413.83,50 447.06,45.5 480.29,46" fill="none" stroke="#a02030" stroke-width="0.95"/>
<polyline points="413.83,48 447.06,43.5 480.29,44" fill="none" stroke="#a02030" stroke-width="0.95"/>
<polyline points="413.83,46 447.06,41.5 480.29,39.4" fill="none" stroke="#a02030" stroke-width="0.95"/>
<line x1="480.29" y1="40" x2="480.29" y2="59.6" stroke="#c4121e" stroke-width="0.9" />
<line x1="413.83" y1="48" x2="413.83" y2="57.2" stroke="#c4121e" stroke-width="0.9" />
<polyline points="413.83,38 447.06,35.5 480.29,33.7" fill="none" stroke="#30307c" stroke-width="1"/>
<polyline points="413.83,39.5 447.06,36.5 480.29,35" fill="none" stroke="#30307c" stroke-width="1"/>
<polyline points="413.83,41.5 447.06,38 480.29,37" fill="none" stroke="#30307c" stroke-width="1"/>
<polyline points="413.83,44 447.06,40 480.29,45.2" fill="none" stroke="#30307c" stroke-width="1"/>
<rect x="412.53" y="55.9" width="2.6" height="2.6" fill="#fff" stroke="#c4121e" stroke-width="1"/>
<rect x="445.76" y="45.1" width="2.6" height="2.6" fill="#fff" stroke="#c4121e" stroke-width="1"/>
<polygon points="480.29,57.8 482.09,60.9 478.49,60.9" fill="#fff" stroke="#c4121e" stroke-width="0.9"/>
<rect x="412.03" y="48.2" width="3.6" height="3.6" fill="#c4121e"/>
<rect x="445.26" y="43.7" width="3.6" height="3.6" fill="#c4121e"/>
<rect x="478.49" y="44.2" width="3.6" height="3.6" fill="#c4121e"/>
<circle cx="413.83" cy="48" r="1.8" fill="#c4121e"/>
<circle cx="447.06" cy="43.5" r="1.8" fill="#c4121e"/>
<circle cx="480.29" cy="44" r="1.8" fill="#c4121e"/>
<rect x="412.03" y="44.2" width="3.6" height="3.6" fill="#c4121e"/>
<rect x="445.26" y="39.7" width="3.6" height="3.6" fill="#c4121e"/>
<rect x="478.49" y="37.6" width="3.6" height="3.6" fill="#c4121e"/>
<polygon points="413.83,35.8 415.83,38 413.83,40.2 411.83,38" fill="#2a2a80"/>
<polygon points="447.06,33.3 449.06,35.5 447.06,37.7 445.06,35.5" fill="#2a2a80"/>
<polygon points="480.29,31.5 482.29,33.7 480.29,35.9 478.29,33.7" fill="#2a2a80"/>
<circle cx="413.83" cy="39.5" r="1.8" fill="#2a2a80"/>
<circle cx="447.06" cy="36.5" r="1.8" fill="#2a2a80"/>
<circle cx="480.29" cy="35" r="1.8" fill="#2a2a80"/>
<rect x="412.03" y="39.7" width="3.6" height="3.6" fill="#2a2a80"/>
<rect x="445.26" y="36.2" width="3.6" height="3.6" fill="#2a2a80"/>
<rect x="478.49" y="35.2" width="3.6" height="3.6" fill="#2a2a80"/>
<circle cx="413.83" cy="44" r="1.8" fill="#2a2a80"/>
<circle cx="447.06" cy="40" r="1.8" fill="#2a2a80"/>
<circle cx="480.29" cy="45.2" r="1.8" fill="#2a2a80"/>
<rect x="478.49" y="37.6" width="3.6" height="3.6" fill="#c4121e"/>
<text x="0.8" y="158.8" font-size="10.2" text-anchor="start" font-weight="bold" fill="#000"  stroke="#000" stroke-width="0.2">D</text>
<line x1="25" y1="162.7" x2="25" y2="252.7" stroke="#262626" stroke-width="1.25" />
<line x1="25" y1="252.7" x2="160.5" y2="252.7" stroke="#262626" stroke-width="1.25" />
<line x1="22.2" y1="252.7" x2="25" y2="252.7" stroke="#262626" stroke-width="1.25" />
<text x="0" y="0" font-size="7" text-anchor="end" font-weight="bold" fill="#111" stroke="#111" stroke-width="0.35" transform="translate(20.9,255.25) scale(0.88,1)">0</text>
<line x1="22.2" y1="230.2" x2="25" y2="230.2" stroke="#262626" stroke-width="1.25" />
<text x="0" y="0" font-size="7" text-anchor="end" font-weight="bold" fill="#111" stroke="#111" stroke-width="0.35" transform="translate(20.9,232.75) scale(0.88,1)">5</text>
<line x1="22.2" y1="207.7" x2="25" y2="207.7" stroke="#262626" stroke-width="1.25" />
<text x="0" y="0" font-size="7" text-anchor="end" font-weight="bold" fill="#111" stroke="#111" stroke-width="0.35" transform="translate(20.9,210.25) scale(0.88,1)">10</text>
<line x1="22.2" y1="185.2" x2="25" y2="185.2" stroke="#262626" stroke-width="1.25" />
<text x="0" y="0" font-size="7" text-anchor="end" font-weight="bold" fill="#111" stroke="#111" stroke-width="0.35" transform="translate(20.9,187.75) scale(0.88,1)">15</text>
<line x1="22.2" y1="162.7" x2="25" y2="162.7" stroke="#262626" stroke-width="1.25" />
<text x="0" y="0" font-size="7" text-anchor="end" font-weight="bold" fill="#111" stroke="#111" stroke-width="0.35" transform="translate(20.9,165.25) scale(0.88,1)">20</text>
<line x1="25" y1="252.7" x2="25" y2="255.7" stroke="#262626" stroke-width="1.25" />
<text x="0" y="0" font-size="7" text-anchor="middle" font-weight="bold" fill="#111" stroke="#111" stroke-width="0.35" transform="translate(25,262.95) scale(0.88,1)">0</text>
<line x1="58.87" y1="252.7" x2="58.87" y2="255.7" stroke="#262626" stroke-width="1.25" />
<text x="0" y="0" font-size="7" text-anchor="middle" font-weight="bold" fill="#111" stroke="#111" stroke-width="0.35" transform="translate(58.87,262.95) scale(0.88,1)">1</text>
<line x1="92.74" y1="252.7" x2="92.74" y2="255.7" stroke="#262626" stroke-width="1.25" />
<text x="0" y="0" font-size="7" text-anchor="middle" font-weight="bold" fill="#111" stroke="#111" stroke-width="0.35" transform="translate(92.74,262.95) scale(0.88,1)">2</text>
<line x1="126.61" y1="252.7" x2="126.61" y2="255.7" stroke="#262626" stroke-width="1.25" />
<text x="0" y="0" font-size="7" text-anchor="middle" font-weight="bold" fill="#111" stroke="#111" stroke-width="0.35" transform="translate(126.61,262.95) scale(0.88,1)">3</text>
<text x="93.35" y="274.3" font-size="8.65" text-anchor="middle" font-weight="bold" fill="#111"  stroke="#111" stroke-width="0.2">Time post-transplant (months)</text>
<text x="0" y="0" font-size="8.8" text-anchor="middle" font-weight="bold" fill="#111" stroke="#111" stroke-width="0.2" transform="translate(6.8,207.9) rotate(-90)" dominant-baseline="central">WBC (K/ul)</text>
<polyline points="58.87,229.6 92.74,219.1 126.61,217.8" fill="none" stroke="#a02030" stroke-width="1"/>
<line x1="58.87" y1="228.4" x2="58.87" y2="230.8" stroke="#c4121e" stroke-width="0.9" />
<line x1="57.07" y1="228.4" x2="60.67" y2="228.4" stroke="#c4121e" stroke-width="0.9" />
<line x1="57.07" y1="230.8" x2="60.67" y2="230.8" stroke="#c4121e" stroke-width="0.9" />
<rect x="56.77" y="227.5" width="4.2" height="4.2" fill="#c4121e"/>
<line x1="92.74" y1="217.7" x2="92.74" y2="220.5" stroke="#c4121e" stroke-width="0.9" />
<line x1="90.94" y1="217.7" x2="94.54" y2="217.7" stroke="#c4121e" stroke-width="0.9" />
<line x1="90.94" y1="220.5" x2="94.54" y2="220.5" stroke="#c4121e" stroke-width="0.9" />
<rect x="90.64" y="217" width="4.2" height="4.2" fill="#c4121e"/>
<line x1="126.61" y1="214.4" x2="126.61" y2="221.2" stroke="#c4121e" stroke-width="0.9" />
<line x1="124.81" y1="214.4" x2="128.41" y2="214.4" stroke="#c4121e" stroke-width="0.9" />
<line x1="124.81" y1="221.2" x2="128.41" y2="221.2" stroke="#c4121e" stroke-width="0.9" />
<rect x="124.51" y="215.7" width="4.2" height="4.2" fill="#c4121e"/>
<polyline points="58.87,217.3 92.74,196.5 126.61,192.5" fill="none" stroke="#30307c" stroke-width="1"/>
<line x1="58.87" y1="214.6" x2="58.87" y2="220" stroke="#2a2a80" stroke-width="0.9" />
<line x1="57.07" y1="214.6" x2="60.67" y2="214.6" stroke="#2a2a80" stroke-width="0.9" />
<line x1="57.07" y1="220" x2="60.67" y2="220" stroke="#2a2a80" stroke-width="0.9" />
<circle cx="58.87" cy="217.3" r="1.9" fill="#2a2a80"/>
<line x1="92.74" y1="193.4" x2="92.74" y2="199.6" stroke="#2a2a80" stroke-width="0.9" />
<line x1="90.94" y1="193.4" x2="94.54" y2="193.4" stroke="#2a2a80" stroke-width="0.9" />
<line x1="90.94" y1="199.6" x2="94.54" y2="199.6" stroke="#2a2a80" stroke-width="0.9" />
<circle cx="92.74" cy="196.5" r="1.9" fill="#2a2a80"/>
<line x1="126.61" y1="184.6" x2="126.61" y2="200.4" stroke="#2a2a80" stroke-width="0.9" />
<line x1="124.81" y1="184.6" x2="128.41" y2="184.6" stroke="#2a2a80" stroke-width="0.9" />
<line x1="124.81" y1="200.4" x2="128.41" y2="200.4" stroke="#2a2a80" stroke-width="0.9" />
<circle cx="126.61" cy="192.5" r="1.9" fill="#2a2a80"/>
<text x="0" y="0" font-size="8.2" text-anchor="middle" fill="#111" stroke="#111" stroke-width="0.25" transform="translate(59,207.15) scale(1.05,1)">n=26</text>
<text x="0" y="0" font-size="8.2" text-anchor="middle" fill="#111" stroke="#111" stroke-width="0.25" transform="translate(91.55,187.45) scale(1.05,1)">n=12</text>
<text x="0" y="0" font-size="8.2" text-anchor="middle" fill="#111" stroke="#111" stroke-width="0.25" transform="translate(127.6,178.7) scale(1.05,1)">n=13</text>
<text x="0" y="0" font-size="8.2" text-anchor="middle" fill="#111" stroke="#111" stroke-width="0.25" transform="translate(58.6,241.85) scale(1.05,1)">n=37</text>
<text x="0" y="0" font-size="8.2" text-anchor="middle" fill="#111" stroke="#111" stroke-width="0.25" transform="translate(91.7,236.3) scale(1.05,1)">n=22</text>
<text x="0" y="0" font-size="8.2" text-anchor="middle" fill="#111" stroke="#111" stroke-width="0.25" transform="translate(127.6,232.05) scale(1.05,1)">n=26</text>
<polyline points="138.4,192.3 145.9,192.3 145.9,218 138.4,218" fill="none" stroke="#000" stroke-width="1.8" stroke-linejoin="miter"/>
<text x="159.8" y="210.94" font-size="10.6" text-anchor="middle" font-weight="bold" fill="#000" stroke="#000" stroke-width="0.35">***</text>
<line x1="202.5" y1="162.7" x2="202.5" y2="252.7" stroke="#262626" stroke-width="1.25" />
<line x1="202.5" y1="252.7" x2="337.8" y2="252.7" stroke="#262626" stroke-width="1.25" />
<line x1="199.7" y1="252.7" x2="202.5" y2="252.7" stroke="#262626" stroke-width="1.25" />
<text x="0" y="0" font-size="7" text-anchor="end" font-weight="bold" fill="#111" stroke="#111" stroke-width="0.35" transform="translate(198.6,255.25) scale(0.88,1)">10</text>
<line x1="199.7" y1="237.7" x2="202.5" y2="237.7" stroke="#262626" stroke-width="1.25" />
<text x="0" y="0" font-size="7" text-anchor="end" font-weight="bold" fill="#111" stroke="#111" stroke-width="0.35" transform="translate(198.6,240.25) scale(0.88,1)">11</text>
<line x1="199.7" y1="222.7" x2="202.5" y2="222.7" stroke="#262626" stroke-width="1.25" />
<text x="0" y="0" font-size="7" text-anchor="end" font-weight="bold" fill="#111" stroke="#111" stroke-width="0.35" transform="translate(198.6,225.25) scale(0.88,1)">12</text>
<line x1="199.7" y1="207.7" x2="202.5" y2="207.7" stroke="#262626" stroke-width="1.25" />
<text x="0" y="0" font-size="7" text-anchor="end" font-weight="bold" fill="#111" stroke="#111" stroke-width="0.35" transform="translate(198.6,210.25) scale(0.88,1)">13</text>
<line x1="199.7" y1="192.7" x2="202.5" y2="192.7" stroke="#262626" stroke-width="1.25" />
<text x="0" y="0" font-size="7" text-anchor="end" font-weight="bold" fill="#111" stroke="#111" stroke-width="0.35" transform="translate(198.6,195.25) scale(0.88,1)">14</text>
<line x1="199.7" y1="177.7" x2="202.5" y2="177.7" stroke="#262626" stroke-width="1.25" />
<text x="0" y="0" font-size="7" text-anchor="end" font-weight="bold" fill="#111" stroke="#111" stroke-width="0.35" transform="translate(198.6,180.25) scale(0.88,1)">15</text>
<line x1="199.7" y1="162.7" x2="202.5" y2="162.7" stroke="#262626" stroke-width="1.25" />
<text x="0" y="0" font-size="7" text-anchor="end" font-weight="bold" fill="#111" stroke="#111" stroke-width="0.35" transform="translate(198.6,165.25) scale(0.88,1)">16</text>
<line x1="202.5" y1="252.7" x2="202.5" y2="255.7" stroke="#262626" stroke-width="1.25" />
<text x="0" y="0" font-size="7" text-anchor="middle" font-weight="bold" fill="#111" stroke="#111" stroke-width="0.35" transform="translate(202.5,262.95) scale(0.88,1)">0</text>
<line x1="236.33" y1="252.7" x2="236.33" y2="255.7" stroke="#262626" stroke-width="1.25" />
<text x="0" y="0" font-size="7" text-anchor="middle" font-weight="bold" fill="#111" stroke="#111" stroke-width="0.35" transform="translate(236.33,262.95) scale(0.88,1)">1</text>
<line x1="270.16" y1="252.7" x2="270.16" y2="255.7" stroke="#262626" stroke-width="1.25" />
<text x="0" y="0" font-size="7" text-anchor="middle" font-weight="bold" fill="#111" stroke="#111" stroke-width="0.35" transform="translate(270.16,262.95) scale(0.88,1)">2</text>
<line x1="303.99" y1="252.7" x2="303.99" y2="255.7" stroke="#262626" stroke-width="1.25" />
<text x="0" y="0" font-size="7" text-anchor="middle" font-weight="bold" fill="#111" stroke="#111" stroke-width="0.35" transform="translate(303.99,262.95) scale(0.88,1)">3</text>
<text x="269.7" y="274.3" font-size="8.63" text-anchor="middle" font-weight="bold" fill="#111"  stroke="#111" stroke-width="0.2">time post transplant (months)</text>
<text x="0" y="0" font-size="9.2" text-anchor="middle" font-weight="bold" fill="#111" stroke="#111" stroke-width="0.2" transform="translate(182.9,206.1) rotate(-90)" dominant-baseline="central">Hb (g/dl)</text>
<polyline points="236.33,227.4 270.16,219.3 303.99,227" fill="none" stroke="#a02030" stroke-width="1"/>
<line x1="236.33" y1="223.4" x2="236.33" y2="231.4" stroke="#c4121e" stroke-width="0.9" />
<line x1="234.53" y1="223.4" x2="238.13" y2="223.4" stroke="#c4121e" stroke-width="0.9" />
<line x1="234.53" y1="231.4" x2="238.13" y2="231.4" stroke="#c4121e" stroke-width="0.9" />
<circle cx="236.33" cy="227.4" r="2.2" fill="#c4121e"/>
<line x1="270.16" y1="215.3" x2="270.16" y2="223.3" stroke="#c4121e" stroke-width="0.9" />
<line x1="268.36" y1="215.3" x2="271.96" y2="215.3" stroke="#c4121e" stroke-width="0.9" />
<line x1="268.36" y1="223.3" x2="271.96" y2="223.3" stroke="#c4121e" stroke-width="0.9" />
<circle cx="270.16" cy="219.3" r="2.2" fill="#c4121e"/>
<line x1="303.99" y1="223.1" x2="303.99" y2="230.9" stroke="#c4121e" stroke-width="0.9" />
<line x1="302.19" y1="223.1" x2="305.79" y2="223.1" stroke="#c4121e" stroke-width="0.9" />
<line x1="302.19" y1="230.9" x2="305.79" y2="230.9" stroke="#c4121e" stroke-width="0.9" />
<circle cx="303.99" cy="227" r="2.2" fill="#c4121e"/>
<polyline points="236.33,208.3 270.16,187.8 303.99,198.5" fill="none" stroke="#30307c" stroke-width="1"/>
<line x1="236.33" y1="205.5" x2="236.33" y2="211.1" stroke="#2a2a80" stroke-width="0.9" />
<line x1="234.53" y1="205.5" x2="238.13" y2="205.5" stroke="#2a2a80" stroke-width="0.9" />
<line x1="234.53" y1="211.1" x2="238.13" y2="211.1" stroke="#2a2a80" stroke-width="0.9" />
<circle cx="236.33" cy="208.3" r="1.9" fill="#2a2a80"/>
<line x1="270.16" y1="184.5" x2="270.16" y2="191.1" stroke="#2a2a80" stroke-width="0.9" />
<line x1="268.36" y1="184.5" x2="271.96" y2="184.5" stroke="#2a2a80" stroke-width="0.9" />
<line x1="268.36" y1="191.1" x2="271.96" y2="191.1" stroke="#2a2a80" stroke-width="0.9" />
<circle cx="270.16" cy="187.8" r="1.9" fill="#2a2a80"/>
<line x1="303.99" y1="193.8" x2="303.99" y2="203.2" stroke="#2a2a80" stroke-width="0.9" />
<line x1="302.19" y1="193.8" x2="305.79" y2="193.8" stroke="#2a2a80" stroke-width="0.9" />
<line x1="302.19" y1="203.2" x2="305.79" y2="203.2" stroke="#2a2a80" stroke-width="0.9" />
<circle cx="303.99" cy="198.5" r="1.9" fill="#2a2a80"/>
<text x="0" y="0" font-size="8.2" text-anchor="middle" fill="#111" stroke="#111" stroke-width="0.25" transform="translate(236.55,200) scale(1.05,1)">n=26</text>
<text x="0" y="0" font-size="8.2" text-anchor="middle" fill="#111" stroke="#111" stroke-width="0.25" transform="translate(269.45,179.4) scale(1.05,1)">n=12</text>
<text x="0" y="0" font-size="8.2" text-anchor="middle" fill="#111" stroke="#111" stroke-width="0.25" transform="translate(306.15,188.95) scale(1.05,1)">n=13</text>
<text x="0" y="0" font-size="8.2" text-anchor="middle" fill="#111" stroke="#111" stroke-width="0.25" transform="translate(236.6,241.7) scale(1.05,1)">n=37</text>
<text x="0" y="0" font-size="8.2" text-anchor="middle" fill="#111" stroke="#111" stroke-width="0.25" transform="translate(269.55,234) scale(1.05,1)">n=22</text>
<text x="0" y="0" font-size="8.2" text-anchor="middle" fill="#111" stroke="#111" stroke-width="0.25" transform="translate(306.15,241.7) scale(1.05,1)">n=26</text>
<polyline points="315.4,199.5 322.2,199.5 322.2,228.3 315.4,228.3" fill="none" stroke="#000" stroke-width="1.8" stroke-linejoin="miter"/>
<text x="336.6" y="220.94" font-size="10.6" text-anchor="middle" font-weight="bold" fill="#000" stroke="#000" stroke-width="0.35">***</text>
<line x1="378.5" y1="162.7" x2="378.5" y2="252.7" stroke="#262626" stroke-width="1.25" />
<line x1="378.5" y1="252.7" x2="514.2" y2="252.7" stroke="#262626" stroke-width="1.25" />
<line x1="375.7" y1="252.7" x2="378.5" y2="252.7" stroke="#262626" stroke-width="1.25" />
<text x="0" y="0" font-size="6.4" text-anchor="end" font-weight="bold" fill="#111" stroke="#111" stroke-width="0.35" transform="translate(374.6,255.04) scale(0.88,1)">0</text>
<line x1="375.7" y1="234.7" x2="378.5" y2="234.7" stroke="#262626" stroke-width="1.25" />
<text x="0" y="0" font-size="6.4" text-anchor="end" font-weight="bold" fill="#111" stroke="#111" stroke-width="0.35" transform="translate(374.6,237.04) scale(0.88,1)">2</text>
<line x1="375.7" y1="216.7" x2="378.5" y2="216.7" stroke="#262626" stroke-width="1.25" />
<text x="0" y="0" font-size="6.4" text-anchor="end" font-weight="bold" fill="#111" stroke="#111" stroke-width="0.35" transform="translate(374.6,219.04) scale(0.88,1)">4</text>
<line x1="375.7" y1="198.7" x2="378.5" y2="198.7" stroke="#262626" stroke-width="1.25" />
<text x="0" y="0" font-size="6.4" text-anchor="end" font-weight="bold" fill="#111" stroke="#111" stroke-width="0.35" transform="translate(374.6,201.04) scale(0.88,1)">6</text>
<line x1="375.7" y1="180.7" x2="378.5" y2="180.7" stroke="#262626" stroke-width="1.25" />
<text x="0" y="0" font-size="6.4" text-anchor="end" font-weight="bold" fill="#111" stroke="#111" stroke-width="0.35" transform="translate(374.6,183.04) scale(0.88,1)">8</text>
<line x1="375.7" y1="162.7" x2="378.5" y2="162.7" stroke="#262626" stroke-width="1.25" />
<text x="0" y="0" font-size="6.4" text-anchor="end" font-weight="bold" fill="#111" stroke="#111" stroke-width="0.35" transform="translate(374.6,165.04) scale(0.88,1)">10</text>
<line x1="378.5" y1="252.7" x2="378.5" y2="255.7" stroke="#262626" stroke-width="1.25" />
<text x="0" y="0" font-size="7" text-anchor="middle" font-weight="bold" fill="#111" stroke="#111" stroke-width="0.35" transform="translate(378.5,262.95) scale(0.88,1)">0</text>
<line x1="412.2" y1="252.7" x2="412.2" y2="255.7" stroke="#262626" stroke-width="1.25" />
<text x="0" y="0" font-size="7" text-anchor="middle" font-weight="bold" fill="#111" stroke="#111" stroke-width="0.35" transform="translate(412.2,262.95) scale(0.88,1)">1</text>
<line x1="445.9" y1="252.7" x2="445.9" y2="255.7" stroke="#262626" stroke-width="1.25" />
<text x="0" y="0" font-size="7" text-anchor="middle" font-weight="bold" fill="#111" stroke="#111" stroke-width="0.35" transform="translate(445.9,262.95) scale(0.88,1)">2</text>
<line x1="479.6" y1="252.7" x2="479.6" y2="255.7" stroke="#262626" stroke-width="1.25" />
<text x="0" y="0" font-size="7" text-anchor="middle" font-weight="bold" fill="#111" stroke="#111" stroke-width="0.35" transform="translate(479.6,262.95) scale(0.88,1)">3</text>
<text x="446.2" y="274.3" font-size="8.6" text-anchor="middle" font-weight="bold" fill="#111"  stroke="#111" stroke-width="0.2">time post transplant (months)</text>
<text x="0" y="0" font-size="8.4" text-anchor="middle" font-weight="bold" fill="#111" stroke="#111" stroke-width="0.2" transform="translate(359.8,207.6) rotate(-90)" dominant-baseline="central">B Cells (K/ul)</text>
<polyline points="412.2,231.9 445.9,217.1 479.6,227.9" fill="none" stroke="#a02030" stroke-width="1"/>
<line x1="412.2" y1="231.1" x2="412.2" y2="232.7" stroke="#c4121e" stroke-width="0.9" />
<line x1="410.4" y1="231.1" x2="414" y2="231.1" stroke="#c4121e" stroke-width="0.9" />
<line x1="410.4" y1="232.7" x2="414" y2="232.7" stroke="#c4121e" stroke-width="0.9" />
<rect x="410.1" y="229.8" width="4.2" height="4.2" fill="#c4121e"/>
<line x1="445.9" y1="214" x2="445.9" y2="220.2" stroke="#c4121e" stroke-width="0.9" />
<line x1="444.1" y1="214" x2="447.7" y2="214" stroke="#c4121e" stroke-width="0.9" />
<line x1="444.1" y1="220.2" x2="447.7" y2="220.2" stroke="#c4121e" stroke-width="0.9" />
<rect x="443.8" y="215" width="4.2" height="4.2" fill="#c4121e"/>
<line x1="479.6" y1="225.4" x2="479.6" y2="230.4" stroke="#c4121e" stroke-width="0.9" />
<line x1="477.8" y1="225.4" x2="481.4" y2="225.4" stroke="#c4121e" stroke-width="0.9" />
<line x1="477.8" y1="230.4" x2="481.4" y2="230.4" stroke="#c4121e" stroke-width="0.9" />
<rect x="477.5" y="225.8" width="4.2" height="4.2" fill="#c4121e"/>
<polyline points="412.2,200.9 445.9,178.8 479.6,179.7" fill="none" stroke="#30307c" stroke-width="1"/>
<line x1="412.2" y1="197.3" x2="412.2" y2="204.5" stroke="#2a2a80" stroke-width="0.9" />
<line x1="410.4" y1="197.3" x2="414" y2="197.3" stroke="#2a2a80" stroke-width="0.9" />
<line x1="410.4" y1="204.5" x2="414" y2="204.5" stroke="#2a2a80" stroke-width="0.9" />
<circle cx="412.2" cy="200.9" r="1.9" fill="#2a2a80"/>
<line x1="445.9" y1="175.7" x2="445.9" y2="181.9" stroke="#2a2a80" stroke-width="0.9" />
<line x1="444.1" y1="175.7" x2="447.7" y2="175.7" stroke="#2a2a80" stroke-width="0.9" />
<line x1="444.1" y1="181.9" x2="447.7" y2="181.9" stroke="#2a2a80" stroke-width="0.9" />
<circle cx="445.9" cy="178.8" r="1.9" fill="#2a2a80"/>
<line x1="479.6" y1="169.3" x2="479.6" y2="190.1" stroke="#2a2a80" stroke-width="0.9" />
<line x1="477.8" y1="169.3" x2="481.4" y2="169.3" stroke="#2a2a80" stroke-width="0.9" />
<line x1="477.8" y1="190.1" x2="481.4" y2="190.1" stroke="#2a2a80" stroke-width="0.9" />
<circle cx="479.6" cy="179.7" r="1.9" fill="#2a2a80"/>
<text x="0" y="0" font-size="8.2" text-anchor="middle" fill="#111" stroke="#111" stroke-width="0.25" transform="translate(413.6,190.7) scale(1.05,1)">n=24</text>
<text x="0" y="0" font-size="8.2" text-anchor="middle" fill="#111" stroke="#111" stroke-width="0.25" transform="translate(445.75,169) scale(1.05,1)">n=12</text>
<text x="0" y="0" font-size="8.2" text-anchor="middle" fill="#111" stroke="#111" stroke-width="0.25" transform="translate(482.5,162.7) scale(1.05,1)">n=12</text>
<text x="0" y="0" font-size="8.2" text-anchor="middle" fill="#111" stroke="#111" stroke-width="0.25" transform="translate(413.75,245.45) scale(1.05,1)">n=35</text>
<text x="0" y="0" font-size="8.2" text-anchor="middle" fill="#111" stroke="#111" stroke-width="0.25" transform="translate(445.75,232) scale(1.05,1)">n=22</text>
<text x="0" y="0" font-size="8.2" text-anchor="middle" fill="#111" stroke="#111" stroke-width="0.25" transform="translate(482.5,241.25) scale(1.05,1)">n=24</text>
<polyline points="491.9,180.3 499.7,180.3 499.7,227.5 491.9,227.5" fill="none" stroke="#000" stroke-width="1.8" stroke-linejoin="miter"/>
<text x="513.2" y="210.74" font-size="10.6" text-anchor="middle" font-weight="bold" fill="#000" stroke="#000" stroke-width="0.35">***</text>
</svg>
</body></html>
